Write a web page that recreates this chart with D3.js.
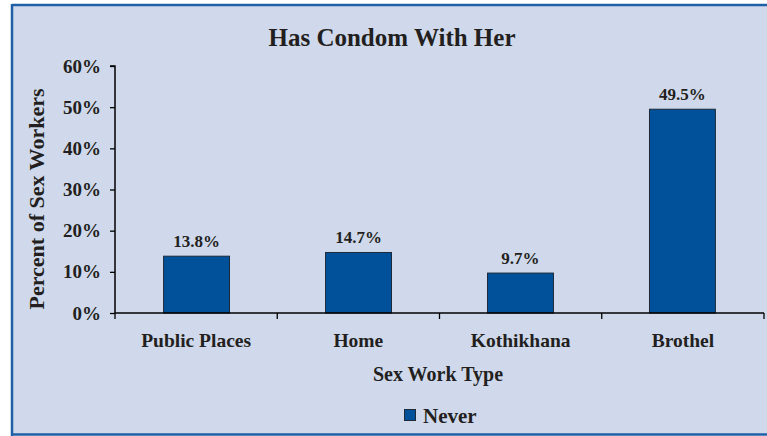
<!DOCTYPE html>
<html>
<head>
<meta charset="utf-8">
<script src="https://cdn.jsdelivr.net/npm/d3@7"></script>
<style>
  html, body { margin: 0; padding: 0; background: #ffffff; }
  svg { display: block; }
  text { font-family: "Liberation Serif", "DejaVu Serif", serif; font-weight: bold; fill: #231f20; }
</style>
</head>
<body>
<svg id="chart" width="767" height="436"></svg>
<script>
const categories = ["Public Places", "Home", "Kothikhana", "Brothel"];
const values = [13.8, 14.7, 9.7, 49.5];
const valueLabels = ["13.8%", "14.7%", "9.7%", "49.5%"];
const yTicks = [0, 10, 20, 30, 40, 50, 60];
const seriesName = "Never";
const title = "Has Condom With Her";
const xTitle = "Sex Work Type";
const yTitle = "Percent of Sex Workers";

const svg = d3.select("#chart");
const W = 767, H = 436;

// panel background and border
svg.append("rect").attr("x", 12).attr("y", 5).attr("width", W - 10).attr("height", H - 6)
  .attr("fill", "#d0d9ec").attr("stroke", "none");
svg.append("line").attr("x1", 12).attr("x2", W).attr("y1", 5).attr("y2", 5)
  .attr("stroke", "#1f5fa6").attr("stroke-width", 2.5);
svg.append("line").attr("x1", 12).attr("x2", 12).attr("y1", 4).attr("y2", H)
  .attr("stroke", "#1f5fa6").attr("stroke-width", 2.5);
svg.append("line").attr("x1", 12).attr("x2", W).attr("y1", H - 1.5).attr("y2", H - 1.5)
  .attr("stroke", "#1f5fa6").attr("stroke-width", 2.5);

const m = { left: 115, right: 764, top: 66, bottom: 313 };

const x = d3.scaleBand().domain(categories).range([m.left, m.right]).paddingInner(0.593).paddingOuter(0.3);
const xOuter = d3.scaleBand().domain(categories).range([m.left, m.right]).padding(0);
const y = d3.scaleLinear().domain([0, 60]).range([m.bottom, m.top]);

// title
svg.append("text").attr("x", 392).attr("y", 46).attr("text-anchor", "middle")
  .style("font-size", "25px").text(title);

// bars
svg.selectAll("rect.bar").data(values).join("rect").attr("class", "bar")
  .attr("x", (d, i) => x(categories[i]))
  .attr("width", x.bandwidth())
  .attr("y", d => y(d))
  .attr("height", d => y(0) - y(d))
  .attr("fill", "#01519a")
  .attr("stroke", "#1c2a3a").attr("stroke-width", 1);

// value labels
svg.selectAll("text.vl").data(values).join("text").attr("class", "vl")
  .attr("x", (d, i) => x(categories[i]) + x.bandwidth() / 2)
  .attr("y", d => y(d) - 9)
  .attr("text-anchor", "middle")
  .style("font-size", "17px")
  .text((d, i) => valueLabels[i]);

// y axis
const yAxis = d3.axisLeft(y).tickValues(yTicks).tickFormat(d => d + "%").tickSize(5).tickPadding(9);
const gy = svg.append("g").attr("transform", `translate(${m.left},0)`).call(yAxis);
gy.select(".domain").attr("stroke", "#000").attr("stroke-width", 1.5).attr("d", `M-5,${m.top}H0V${m.bottom}`);
gy.selectAll(".tick line").attr("stroke", "#000").attr("stroke-width", 1.3);
gy.selectAll(".tick text").style("font-size", "19px").style("font-family", '"Liberation Serif", serif')
  .style("font-weight", "bold").attr("fill", "#231f20");

// x axis
const gx = svg.append("g").attr("transform", `translate(0,${m.bottom})`);
gx.append("line").attr("x1", m.left).attr("x2", m.right).attr("y1", 0).attr("y2", 0)
  .attr("stroke", "#000").attr("stroke-width", 1.5);
const sepPositions = categories.map(c => xOuter(c)).concat([m.right]);
gx.selectAll("line.sep").data(sepPositions).join("line").attr("class", "sep")
  .attr("x1", d => d).attr("x2", d => d).attr("y1", 0).attr("y2", 6)
  .attr("stroke", "#000").attr("stroke-width", 1.3);
gx.selectAll("text.cat").data(categories).join("text").attr("class", "cat")
  .attr("x", d => xOuter(d) + xOuter.bandwidth() / 2)
  .attr("y", 34)
  .attr("text-anchor", "middle")
  .style("font-size", "19.5px")
  .text(d => d);

// axis titles
svg.append("text").attr("x", 438).attr("y", 381).attr("text-anchor", "middle")
  .style("font-size", "20px").text(xTitle);
svg.append("text").attr("transform", "translate(44,199) rotate(-90)").attr("text-anchor", "middle")
  .style("font-size", "22px").text(yTitle);

// legend
svg.append("rect").attr("x", 404.5).attr("y", 409.5).attr("width", 11).attr("height", 11)
  .attr("fill", "#01519a").attr("stroke", "#1c2a3a").attr("stroke-width", 1);
svg.append("text").attr("x", 423).attr("y", 423).style("font-size", "21px").text(seriesName);
</script>
</body>
</html>
